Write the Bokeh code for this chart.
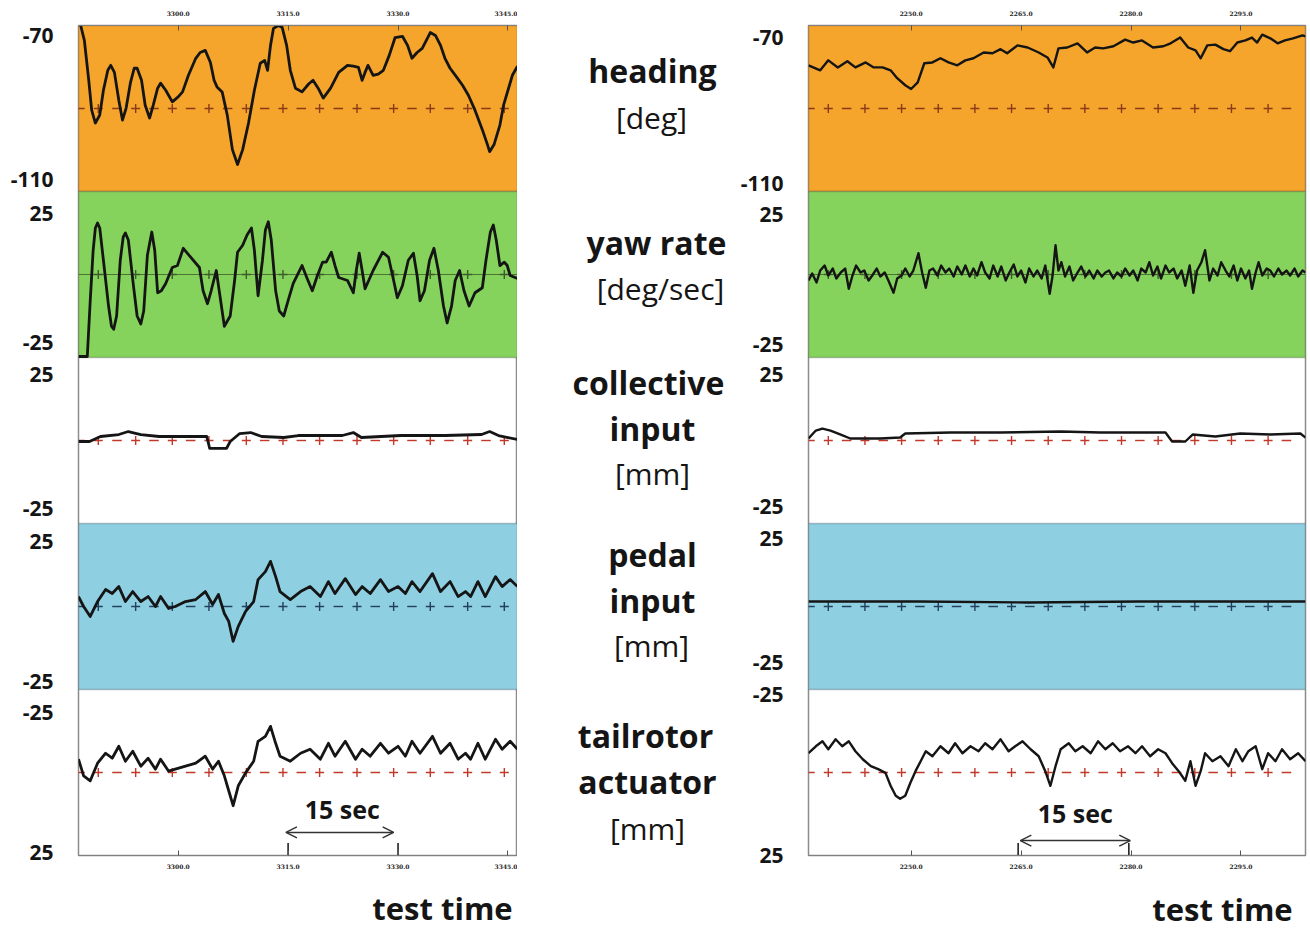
import numpy as np
from bokeh.plotting import figure
from bokeh.models import Range1d, LinearAxis, FixedTicker, BoxAnnotation, Label, Arrow, OpenHead
from bokeh.layouts import row, column
from bokeh.core.properties import value
from bokeh.embed import file_html
from bokeh.resources import INLINE

# ---------------- data (time in s from panel start, physical values) ----------------
L_HEAD_T = [0.0, 0.3, 0.8, 1.4, 1.8, 2.3, 2.9, 3.4, 4.0, 4.4, 4.9, 5.5, 6.0, 6.5, 7.1, 7.6, 8.0, 8.6, 9.1, 9.7,
            10.2, 10.8, 11.2, 11.9, 12.8, 13.6, 14.2, 15.0, 16.0, 16.6, 17.3, 18.0, 18.5, 18.9, 19.6, 20.3, 21.0,
            21.7, 22.4, 23.2, 24.0, 24.8, 25.4, 25.8, 26.2, 26.6, 27.3, 27.8, 28.4, 28.9, 29.6, 30.5, 31.4, 32.0,
            32.7, 33.4, 34.4, 35.5, 36.7, 37.5, 38.2, 38.7, 39.1, 39.5, 40.2, 40.9, 41.6, 42.4, 43.2, 44.2, 44.9,
            45.5, 46.2, 46.9, 47.6, 48.0, 48.7, 49.4, 50.0, 50.7, 51.5, 52.4, 53.2, 54.1, 55.1, 55.8, 56.1, 56.7,
            57.5, 58.0, 58.6, 59.2, 59.9]
L_HEAD_V = [-69.0, -70.0, -73.6, -83.2, -90.4, -93.5, -91.6, -85.6, -80.8, -79.6, -81.3, -88.0, -92.8, -89.9, -83.7,
            -80.3, -80.3, -83.2, -89.2, -92.3, -89.2, -85.1, -83.9, -85.6, -88.4, -87.2, -86.0, -82.0, -77.9, -76.5,
            -76.0, -78.9, -83.2, -84.8, -86.0, -91.6, -99.9, -103.5, -99.9, -93.5, -85.6, -79.1, -78.4, -80.8, -74.8,
            -70.7, -70.0, -70.5, -74.8, -80.8, -85.1, -86.0, -84.1, -83.2, -85.1, -87.5, -85.1, -81.3, -79.6, -79.8,
            -80.1, -83.2, -81.3, -79.6, -82.0, -81.7, -80.8, -77.2, -72.9, -72.6, -74.8, -77.9, -76.5, -75.5, -73.1,
            -71.7, -72.4, -74.8, -77.9, -80.3, -82.2, -84.4, -86.8, -90.4, -95.1, -98.7, -100.4, -98.7, -94.0, -89.2,
            -85.6, -82.0, -79.8]

L_YAW_T = [0.0, 1.2, 1.6, 2.0, 2.3, 2.6, 2.9, 3.4, 4.1, 4.5, 4.8, 5.2, 5.7, 6.1, 6.4, 6.8, 7.5, 8.0, 8.5, 8.9,
           9.4, 10.0, 10.4, 10.8, 11.3, 11.9, 12.8, 13.5, 14.3, 15.3, 16.5, 17.0, 17.6, 18.1, 18.8, 19.2, 19.9, 20.7,
           21.3, 21.7, 22.4, 23.0, 23.6, 24.0, 24.5, 25.1, 25.5, 25.9, 26.3, 26.9, 27.4, 28.0, 28.6, 29.3, 30.5,
           31.2, 31.9, 32.6, 33.3, 33.8, 34.5, 35.0, 35.5, 36.7, 37.5, 37.9, 38.3, 38.7, 39.1, 40.2, 41.5, 42.3,
           43.0, 43.5, 44.2, 45.0, 45.7, 46.2, 46.6, 47.2, 47.9, 48.5, 49.1, 49.8, 50.3, 50.9, 51.4, 52.0, 52.6,
           53.3, 54.1, 55.1, 55.6, 56.2, 56.6, 57.0, 57.5, 58.1, 58.5, 58.9, 59.9]
L_YAW_V = [-24.7, -24.7, -7.9, 7.3, 14.0, 15.5, 14.0, 4.3, -9.5, -15.6, -16.5, -12.5, 4.3, 11.3, 12.5, 10.4, -3.4,
           -12.5, -14.9, -11.0, 5.8, 12.8, 7.3, -5.5, -4.9, -2.7, 2.1, 2.7, 7.9, 5.2, 2.1, -4.9, -8.8, -4.9, 1.2,
           -4.9, -15.6, -12.5, -1.8, 6.7, 8.8, 11.9, 14.0, 7.3, -6.4, 4.3, 13.4, 15.9, 10.4, -4.9, -11.0, -12.5,
           -7.9, -2.7, 2.7, -1.2, -4.9, -0.3, 3.7, 3.7, 6.7, 2.7, -0.9, -1.8, -5.5, 1.2, 6.4, 1.2, -4.3, 1.2, 6.7,
           5.2, -1.8, -7.0, -3.4, 4.3, 6.4, -0.3, -7.9, -4.9, 4.3, 7.9, 1.2, -9.5, -14.6, -9.5, -1.8, 1.2, -4.9,
           -9.5, -5.5, -4.0, 4.3, 12.8, 14.9, 10.4, 2.7, 3.7, 2.7, -0.3, -1.2]

L_COL_T = [0, 1.5, 3, 5.5, 6.8, 8.5, 11, 17.5, 17.9, 20.2, 20.7, 22, 23.5, 25, 28, 30, 36, 37.5, 38.6, 44, 50, 55, 56.1,
           57.3, 58.6, 59.9]
L_COL_V = [-0.3, -0.3, 1.2, 1.8, 2.7, 1.8, 1.2, 1.2, -2.4, -2.4, -0.3, 2.1, 2.4, 1.2, 0.9, 1.5, 1.5, 2.4, 0.9, 1.5, 1.5,
           1.8, 2.7, 1.5, 0.9, 0.3]

L_PED_T = [0, 0.7, 1.6, 2.6, 3.7, 4.6, 5.5, 6.4, 7.4, 8.5, 9.5, 10.5, 11.2, 12.3, 13.2, 14.6, 16.0, 17.3, 18.3, 19.1,
           19.9, 20.5, 21.1, 21.8, 22.8, 23.9, 24.5, 25.5, 26.2, 26.9, 27.5, 28.9, 30.3, 31.6, 33.0, 34.1, 35.0, 36.4,
           37.8, 38.7, 39.8, 41.2, 42.3, 43.6, 44.6, 45.5, 46.6, 48.3, 49.4, 50.7, 51.8, 52.8, 53.5, 54.5, 55.5, 56.9,
           57.8, 58.9, 59.9]
L_PED_V = [3.0, 0.0, -3.0, 1.5, 5.1, 3.9, 6.0, 1.5, 4.5, 1.5, 3.0, 0.0, 3.0, -0.6, 0.0, 1.5, 2.1, 4.5, 0.6, 3.6,
           -2.1, -4.5, -10.5, -6.0, -1.5, 1.5, 8.1, 10.5, 13.6, 9.0, 4.5, 2.1, 4.5, 6.0, 3.0, 7.5, 3.9, 8.4, 3.6, 6.0,
           3.9, 8.1, 4.5, 6.0, 3.9, 7.5, 4.5, 9.9, 4.5, 7.5, 3.0, 4.5, 3.0, 7.5, 3.0, 9.0, 6.0, 8.1, 6.0]

L_TR_T = L_PED_T
L_TR_V = [-4.0, 1.0, 2.5, -2.8, -5.8, -4.3, -7.9, -3.4, -6.4, -1.9, -4.3, -1.0, -4.0, -0.4, -1.0, -1.9, -2.8, -4.9, -1.0, -3.4,
          1.0, 5.5, 10.0, 4.0, 0.1, -3.4, -9.4, -10.9, -13.9, -8.8, -4.9, -3.4, -5.8, -7.0, -4.0, -8.8, -4.9, -9.4, -4.0, -7.0,
          -4.9, -8.8, -5.8, -7.9, -4.9, -9.4, -5.8, -10.9, -5.8, -8.8, -4.0, -5.8, -4.0, -8.8, -4.0, -10.0, -7.0, -9.4, -7.0]

R_HEAD_T = [0, 1.6, 2.7, 4.0, 5.3, 6.4, 7.8, 8.9, 10.1, 11.2, 12.1, 13.2, 14.0, 14.9, 15.8, 16.9, 18.0, 19.1, 20.3, 21.4,
            22.5, 23.9, 25.1, 26.2, 27.1, 28.5, 29.9, 31.4, 32.6, 33.4, 34.1, 35.3, 36.7, 38.0, 39.1, 40.2, 41.6, 43.2,
            44.3, 45.5, 47.0, 48.4, 49.4, 50.7, 51.8, 52.8, 53.5, 54.4, 55.5, 56.6, 57.5, 58.5, 59.6, 60.5, 61.2, 61.9,
            63.0, 64.0, 65.0, 66.1, 67.4, 67.8]
R_HEAD_V = [-79.6, -80.8, -78.4, -80.1, -78.6, -80.1, -78.9, -80.1, -80.1, -80.8, -82.7, -84.4, -85.3, -83.7, -79.1,
            -78.9, -77.9, -78.9, -79.6, -78.4, -77.9, -76.5, -76.7, -75.7, -76.7, -74.8, -75.3, -76.5, -77.7, -80.1,
            -75.5, -75.3, -74.3, -76.5, -75.3, -75.5, -75.0, -73.4, -74.1, -73.6, -75.3, -75.0, -74.3, -72.9, -75.3,
            -76.0, -77.9, -74.8, -74.6, -75.7, -76.2, -74.1, -73.6, -72.9, -74.1, -72.2, -73.1, -74.3, -73.6, -73.1,
            -72.4, -72.6]

R_YAW_T = [0.0, 0.5, 1.1, 1.6, 2.2, 2.7, 3.3, 3.8, 4.4, 5.0,
           5.5, 6.0, 6.5, 7.1, 7.6, 8.2, 8.7, 9.3, 9.8, 10.4,
           10.9, 11.6, 12.1, 12.7, 13.2, 13.8, 14.3, 15.0, 15.5, 16.0,
           16.5, 17.0, 17.6, 18.1, 18.7, 19.2, 19.8, 20.3, 20.9, 21.4,
           22.0, 22.5, 23.0, 23.6, 24.1, 24.7, 25.2, 25.8, 26.3, 26.9,
           27.4, 28.0, 28.5, 29.0, 29.6, 30.1, 30.7, 31.2, 31.8, 32.3,
           32.9, 33.3, 33.7, 34.1, 34.5, 35.0, 35.6, 36.1, 36.7, 37.2,
           37.8, 38.3, 38.9, 39.4, 40.0, 40.5, 41.0, 41.6, 42.1, 42.7,
           43.2, 43.8, 44.3, 44.9, 45.4, 46.0, 46.5, 47.0, 47.6, 48.1,
           48.7, 49.2, 49.8, 50.3, 50.9, 51.4, 52.0, 52.5, 53.0, 53.6,
           54.1, 54.7, 55.2, 55.8, 56.3, 56.9, 57.4, 58.0, 58.5, 59.0,
           59.6, 60.1, 60.5, 61.0, 61.4, 61.9, 62.5, 63.0, 63.5, 64.1,
           64.6, 65.2, 65.7, 66.3, 66.8, 67.4, 67.8]
R_YAW_V = [-1.8, 0.3, -2.4, 1.2, 2.7, -0.3, 1.8, -1.2, 0.6, 1.8,
           -4.3, -0.3, 2.7, 0.6, 1.2, -1.8, -0.3, 1.8, -0.6, 0.6,
           -1.8, -5.5, -1.2, -0.3, 1.8, -0.6, 1.2, 6.4, 0.6, -4.0,
           1.2, 1.8, -0.3, 2.7, 0.6, 1.8, -0.6, 2.4, 0.0, 2.7,
           -0.6, 1.8, -0.3, 3.7, 0.6, -1.2, 2.7, -0.6, 2.4, -1.8,
           0.6, 3.0, -0.6, 1.2, -2.4, 1.8, -0.6, 1.2, -1.2, 2.7,
           -5.8, -0.3, 8.8, 1.2, 3.7, -0.6, 2.4, -1.8, 0.6, 2.4,
           -0.6, 1.2, -1.2, 1.2, -0.6, 0.6, 1.2, -1.2, 0.6, -0.6,
           1.8, -0.3, 1.2, -1.8, 1.8, 0.6, 3.7, -0.3, 2.4, -1.2,
           2.7, 0.6, 1.8, -1.2, 1.2, -3.4, 2.7, -5.5, 1.2, 3.7,
           7.3, -1.8, 1.8, -0.3, 3.7, 1.2, -0.6, 2.7, -1.8, 1.8,
           -1.2, 1.2, -4.3, 0.6, 3.7, -0.3, 1.8, 1.2, -0.6, 1.8,
           0.0, 1.2, -0.3, 1.8, -0.6, 1.2, 0.6]

R_COL_T = [0, 1.0, 1.9, 3.0, 4.4, 5.7, 9.8, 12.5, 13.2, 19.4, 26.2, 34.4, 39.8, 48.7, 49.6, 51.4, 52.4, 55.5, 58.9, 63.0,
           67.1, 67.8]
R_COL_V = [0.6, 3.0, 3.6, 3.0, 1.8, 0.6, 0.6, 0.9, 2.1, 2.4, 2.4, 2.7, 2.4, 2.4, -0.3, -0.3, 1.8, 1.2, 2.1, 1.8, 2.1, 0.9]

R_PED_T = [0, 15, 30, 45, 60, 67.8]
R_PED_V = [1.5, 1.5, 1.2, 1.5, 1.5, 1.5]

R_TR_T = [0, 1.0, 1.9, 2.7, 3.7, 4.6, 5.5, 6.4, 7.4, 8.5, 9.5, 10.5, 11.2, 11.9, 12.5, 13.2, 13.9, 14.6, 15.3, 16.0,
          16.9, 18.0, 19.1, 20.0, 21.0, 22.1, 23.2, 24.1, 25.1, 26.2, 27.3, 28.2, 29.2, 30.3, 31.4, 32.3, 33.0, 33.7,
          34.4, 35.5, 36.4, 37.4, 38.5, 39.5, 40.5, 41.5, 42.5, 43.6, 44.6, 45.5, 46.6, 47.7, 48.7, 49.6, 50.5, 51.4,
          52.1, 52.8, 53.5, 54.1, 55.1, 56.2, 57.3, 58.3, 59.2, 60.0, 61.0, 61.9, 62.7, 63.7, 64.6, 65.7, 66.8, 67.8]
R_TR_V = [-5.8, -7.9, -9.4, -7.0, -10.0, -7.9, -9.4, -6.4, -4.0, -1.9, -1.0, 0.1, 4.0, 7.0, 7.9, 7.0, 3.1, -0.4, -3.4, -6.4,
          -4.9, -7.9, -5.8, -8.8, -5.8, -7.9, -6.4, -8.8, -7.0, -10.0, -6.4, -7.9, -9.4, -7.0, -4.9, -0.4, 4.0, -1.9,
          -7.0, -8.8, -6.4, -7.9, -5.8, -9.4, -7.0, -8.8, -6.4, -7.9, -5.8, -7.9, -4.9, -7.0, -5.8, -2.8, -0.4, 2.5,
          -3.4, 4.0, -0.4, -5.8, -3.4, -4.9, -1.9, -7.0, -3.4, -6.4, -7.9, -1.0, -5.8, -3.4, -7.0, -4.0, -5.8, -3.4]

# reference marks ("+") along each band's centre line
L_REF_T = [2.7, 7.8, 12.8, 17.8, 22.9, 27.9, 32.9, 38.0, 43.0, 48.0, 53.1, 58.1]
R_REF_T = [2.7, 7.7, 12.7, 17.7, 22.7, 27.7, 32.7, 37.7, 42.7, 47.7, 52.7, 57.7, 62.7]

# time-axis ticks
L_XTICKS = [13.6, 28.6, 43.6, 58.6]
L_XLABELS = ["3300.0", "3315.0", "3330.0", "3345.0"]
R_XTICKS = [14.0, 29.0, 44.0, 59.0]
R_XLABELS = ["2250.0", "2265.0", "2280.0", "2295.0"]

# band-scale labels
Y_TEXT = ["-70", "-110", "25", "-25", "25", "-25", "25", "-25", "-25", "25"]
L_YPOS = [4.94, 4.07, 3.87, 3.09, 2.90, 2.09, 1.89, 1.05, 0.86, 0.02]
R_YPOS = [4.93, 4.05, 3.86, 3.08, 2.90, 2.10, 1.91, 1.16, 0.97, 0.0]

# centre captions and bottom titles
CAP_TEXT = ["heading", "[deg]", "yaw rate", "[deg/sec]", "collective", "input", "[mm]",
            "pedal", "input", "[mm]", "tailrotor", "actuator", "[mm]"]
CAP_BOLD = [True, False, True, False, True, True, False, True, True, False, True, True, False]
TITLE_TEXT = ["test time", "test time"]

BANDS = ["heading", "yaw", "collective", "pedal", "tailrotor"]
BAND_LIM = {"heading": (-110, -70), "yaw": (-25, 25), "collective": (-25, 25),
            "pedal": (-25, 25), "tailrotor": (25, -25)}   # (value at band bottom, value at band top)
BAND_SLOT = {"heading": 4, "yaw": 3, "collective": 2, "pedal": 1, "tailrotor": 0}
BAND_MID = {"heading": -90, "yaw": 0, "collective": 0, "pedal": 0, "tailrotor": 0}
BAND_FILL = {"heading": "#F5A52C", "yaw": "#85D35D", "collective": None, "pedal": "#8FCFE2", "tailrotor": None}
BAND_EDGE = {"heading": "#6e2f12", "yaw": "#2e3a22", "pedal": "#2e3a48"}
REF_COLOR = {"heading": "#8a3a16", "yaw": "#3f5a2a", "collective": "#c0392b", "pedal": "#23405e",
             "tailrotor": "#c0392b"}

FONT = "Open Sans"
INK = "#151515"
FRAME_TOP, FRAME_BOT = 25, 855
PANEL_H = 873
PAGE_H = 931
LEFT_W, MID_W, RIGHT_W = 517, 220, 570


def panel(width, bl, br, x_end, xticks, xlabels, ypos, standoff, traces, ref_t, arrow, marks, arrow_lbl, lw):
    p = figure(width=width, height=PANEL_H, x_range=Range1d(0, x_end), y_range=Range1d(0, 5),
               output_backend="svg", toolbar_location=None, title=None,
               min_border_left=bl, min_border_right=br, min_border_top=FRAME_TOP,
               min_border_bottom=PANEL_H - FRAME_BOT)
    p.xgrid.visible = False
    p.ygrid.visible = False
    p.outline_line_color = "#8c8c8c"
    p.outline_line_width = 1.5
    p.background_fill_color = "white"
    p.border_fill_color = "white"

    extra = {}
    for b in BANDS:
        lo, hi = BAND_LIM[b]
        k = BAND_SLOT[b]
        span = hi - lo
        extra[b] = Range1d(start=lo - k * span, end=hi + (4 - k) * span)
    p.extra_y_ranges = extra

    for b in BANDS:
        k = BAND_SLOT[b]
        if BAND_FILL[b]:
            p.add_layout(BoxAnnotation(bottom=k, top=k + 1, fill_color=BAND_FILL[b], fill_alpha=1.0,
                                       line_color=BAND_EDGE[b], line_width=1.6, level="underlay"))

    # reference lines: "+" marks with short dashes between
    rt = np.array(ref_t)
    mids = np.concatenate([[rt[0] - 2.5], (rt[:-1] + rt[1:]) / 2, [rt[-1] + 2.5]])
    for b in BANDS:
        m = BAND_MID[b]
        c = REF_COLOR[b]
        if b == "yaw":
            p.line([0, x_end], [m, m], y_range_name=b, line_color=c, line_width=1.2, line_alpha=0.8)
        else:
            p.segment(x0=mids - 0.65, x1=mids + 0.65, y0=[m] * len(mids), y1=[m] * len(mids),
                      y_range_name=b, line_color=c, line_width=1.4)
        p.scatter(rt, [m] * len(rt), y_range_name=b, marker="cross", size=9, line_color=c, line_width=1.4)

    for b, (t, v) in traces.items():
        p.line(t, v, y_range_name=b, line_color=INK, line_width=lw, line_join="round")

    # band value labels
    ya = p.yaxis[0]
    ya.ticker = FixedTicker(ticks=ypos)
    ya.major_label_overrides = dict(zip(ypos, Y_TEXT))
    ya.axis_line_color = None
    ya.major_tick_line_color = None
    ya.minor_tick_line_color = None
    ya.major_label_standoff = standoff
    ya.major_label_text_font = FONT
    ya.major_label_text_font_style = "bold"
    ya.major_label_text_font_size = "21px"
    ya.major_label_text_color = INK

    def style_x(ax, so):
        ax.ticker = FixedTicker(ticks=xticks)
        ax.major_label_overrides = dict(zip(xticks, xlabels))
        ax.axis_line_color = "#808080"
        ax.axis_line_width = 1.2
        ax.major_tick_in = 5
        ax.major_tick_out = 0
        ax.major_tick_line_color = "#555555"
        ax.minor_tick_line_color = None
        ax.major_label_standoff = so
        ax.major_label_text_font = "DejaVu Serif"
        ax.major_label_text_font_style = "bold"
        ax.major_label_text_font_size = "6px"
        ax.major_label_text_color = "#222222"

    style_x(p.xaxis[0], 8)
    top = LinearAxis()
    style_x(top, 10)
    p.add_layout(top, "above")

    # 15 sec arrow
    a0, a1, ay = arrow
    p.add_layout(Arrow(x_start=a0, x_end=a1, y_start=ay, y_end=ay, line_color="#333333", line_width=1.5,
                       start=OpenHead(size=11, line_color="#333333", line_width=1.5),
                       end=OpenHead(size=11, line_color="#333333", line_width=1.5)))
    p.segment(x0=marks, x1=marks, y0=[0, 0], y1=[0.075, 0.075], line_color="#222222", line_width=1.6)
    p.add_layout(Label(x=arrow_lbl[0], y=arrow_lbl[1], text="15 sec", text_font=FONT, text_font_style="bold",
                       text_font_size="25px", text_align="center", text_baseline="middle", text_color=INK))
    return p


def blank(width, height, xr, yr):
    f = figure(width=width, height=height, x_range=Range1d(*xr), y_range=Range1d(*yr),
               output_backend="svg", toolbar_location=None, title=None,
               min_border_left=0, min_border_right=0, min_border_top=0, min_border_bottom=0)
    f.axis.visible = False
    f.xgrid.visible = False
    f.ygrid.visible = False
    f.outline_line_color = None
    f.background_fill_color = "white"
    f.border_fill_color = "white"
    return f


left = panel(LEFT_W, 78, 0, 59.9, L_XTICKS, L_XLABELS, L_YPOS, 19,
             {"heading": (L_HEAD_T, L_HEAD_V), "yaw": (L_YAW_T, L_YAW_V), "collective": (L_COL_T, L_COL_V),
              "pedal": (L_PED_T, L_PED_V), "tailrotor": (L_TR_T, L_TR_V)},
             L_REF_T, (28.3, 43.0, 0.139), [28.6, 43.6], (36.0, 0.283), 2.8)

right = panel(RIGHT_W, 71, 2, 67.8, R_XTICKS, R_XLABELS, R_YPOS, 19,
              {"heading": (R_HEAD_T, R_HEAD_V), "yaw": (R_YAW_T, R_YAW_V), "collective": (R_COL_T, R_COL_V),
               "pedal": (R_PED_T, R_PED_V), "tailrotor": (R_TR_T, R_TR_V)},
              R_REF_T, (28.9, 43.9, 0.09), [28.6, 43.7], (36.4, 0.259), 2.4)

# centre caption column: its frame lines up with the panels' frames, ranges in page pixels
mid = blank(MID_W, PANEL_H, (LEFT_W, LEFT_W + MID_W), (FRAME_BOT, FRAME_TOP))
cap_x = [652, 651, 656, 660, 648, 652, 652, 652, 652, 651, 645, 647, 647]
cap_y = [70, 117, 242, 288, 382, 428, 473, 554, 600, 645, 735, 781, 828]
bx = [x for x, b in zip(cap_x, CAP_BOLD) if b]
by = [y for y, b in zip(cap_y, CAP_BOLD) if b]
bt = [t for t, b in zip(CAP_TEXT, CAP_BOLD) if b]
nx = [x for x, b in zip(cap_x, CAP_BOLD) if not b]
ny = [y for y, b in zip(cap_y, CAP_BOLD) if not b]
nt = [t for t, b in zip(CAP_TEXT, CAP_BOLD) if not b]
mid.text(bx, by, text=bt, text_font=value(FONT), text_font_style="bold", text_font_size="32px",
         text_align="center", text_baseline="middle", text_color=INK)
mid.text(nx, ny, text=nt, text_font=value(FONT), text_font_style="normal", text_font_size="30px",
         text_align="center", text_baseline="middle", text_color=INK)

# bottom strip with the "test time" titles (page pixel ranges)
bottom = blank(LEFT_W + MID_W + RIGHT_W, PAGE_H - PANEL_H, (0, LEFT_W + MID_W + RIGHT_W), (PAGE_H, PANEL_H))
bottom.text([442, 1222], [907, 908], text=TITLE_TEXT, text_font=value(FONT), text_font_style="bold",
            text_font_size="31px", text_align="center", text_baseline="middle", text_color=INK)

layout = column(row(left, mid, right), bottom)
open("out.html", "w").write(file_html(layout, INLINE))
